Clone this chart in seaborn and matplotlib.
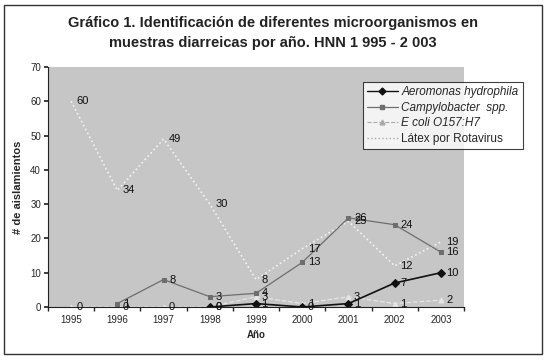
import numpy as np
import pandas as pd
import matplotlib
matplotlib.use("Agg")
import matplotlib.pyplot as plt
import seaborn as sns
from matplotlib.patches import Rectangle
from matplotlib.lines import Line2D

years = ["1995", "1996", "1997", "1998", "1999", "2000", "2001", "2002", "2003"]
aeromonas = [np.nan, np.nan, np.nan, 0, 1, 0, 1, 7, 10]
campylobacter = [np.nan, 1, 8, 3, 4, 13, 26, 24, 16]
ecoli = [0, 0, 0, 0, 3, 1, 3, 1, 2]
rotavirus = [60, 34, 49, 30, 8, 17, 25, 12, 19]

series_names = ["Aeromonas hydrophila", "Campylobacter  spp.", "E coli O157:H7", "Látex por Rotavirus"]
series_values = [aeromonas, campylobacter, ecoli, rotavirus]

sns.set_theme(style="white")
plt.rcParams['font.family'] = ['Liberation Sans', 'DejaVu Sans']

fig = plt.figure(figsize=(5.46, 3.63), dpi=100)
ax = fig.add_axes([48/546, 1-307/363, (464-48)/546, (307-67)/363])
ax.set_facecolor("#c6c6c6")

rows = []
for name, vals in zip(series_names, series_values):
    for i, v in enumerate(vals):
        rows.append({"Año": i, "serie": name, "valor": v})
df = pd.DataFrame(rows)

styles = {
    "Aeromonas hydrophila": dict(color="#111111", marker="D", ms=4, ls="-", lw=1.2),
    "Campylobacter  spp.": dict(color="#6e6e6e", marker="s", ms=3.5, ls="-", lw=0.9),
    "E coli O157:H7": dict(color="#e6e6e6", marker="^", ms=3.5, ls="--", lw=0.9),
    "Látex por Rotavirus": dict(color="#f4f4f4", marker="", ms=0, ls=":", lw=1.2),
}

for name in series_names[::-1]:
    sub = df[df["serie"] == name].dropna()
    st = styles[name]
    sns.lineplot(data=sub, x="Año", y="valor", ax=ax, color=st["color"],
                 marker=st["marker"] if st["marker"] else None, markersize=st["ms"],
                 linestyle=st["ls"], linewidth=st["lw"], label=name,
                 markeredgecolor=st["color"], legend=False)

# data labels
for name, vals in zip(series_names, series_values):
    for i, v in enumerate(vals):
        if not np.isnan(v):
            ax.text(i + 0.12, v, f"{int(v)}", fontsize=8, color="#111111",
                    va="center", ha="left")

ax.set_xlim(-0.5, 8.5)
ax.set_ylim(0, 70)
ax.set_yticks(range(0, 71, 10))
ax.set_xticks(range(len(years)))
ax.set_xticklabels(years)
ax.set_xticks(np.arange(-0.5, 9, 1), minor=True)
ax.tick_params(axis="x", which="major", length=0, labelsize=7, pad=6)
ax.tick_params(axis="x", which="minor", length=3, direction="out", bottom=True)
ax.tick_params(axis="y", labelsize=7, length=3, direction="out", left=True, pad=2)
for s in ["top", "right"]:
    ax.spines[s].set_visible(False)
for s in ["left", "bottom"]:
    ax.spines[s].set_color("#222222")
    ax.spines[s].set_linewidth(0.8)

ax.set_xlabel("Año", fontsize=7, fontweight="bold", labelpad=3)
ax.set_ylabel("# de aislamientos", fontsize=8, fontweight="bold", labelpad=5)

fig.text(0.5, 1-23/363, "Gráfico 1. Identificación de diferentes microorganismos en",
         ha="center", va="center", fontsize=10.5, fontweight="bold", color="#222222")
fig.text(0.5, 1-43/363, "muestras diarreicas por año. HNN 1 995 - 2 003",
         ha="center", va="center", fontsize=10.5, fontweight="bold", color="#222222")

# legend
handles = [
    Line2D([0], [0], color="#111111", marker="D", markersize=3.5, linestyle="-", linewidth=1.0),
    Line2D([0], [0], color="#6e6e6e", marker="s", markersize=3.5, linestyle="-", linewidth=0.9),
    Line2D([0], [0], color="#aaaaaa", marker="^", markersize=3.5, linestyle="--", linewidth=0.8),
    Line2D([0], [0], color="#aaaaaa", linestyle=":", linewidth=1.0),
]
leg = fig.legend(handles, series_names,
                 loc="upper left", bbox_to_anchor=(363/546, 1-82/363), fontsize=8.5,
                 frameon=True, fancybox=False, edgecolor="#111111", borderpad=0.35,
                 labelspacing=0.3, handlelength=2.6, handletextpad=0.3, borderaxespad=0)
leg.get_frame().set_linewidth(0.8)
for i, t in enumerate(leg.get_texts()):
    if i < 3:
        t.set_fontstyle("italic")

fig.patches.append(Rectangle((4/546, 1-354/363), (542-4)/546, (354-5)/363,
                             transform=fig.transFigure, fill=False, edgecolor="#333333", linewidth=1.0))

fig.savefig("out.png", dpi=100)
